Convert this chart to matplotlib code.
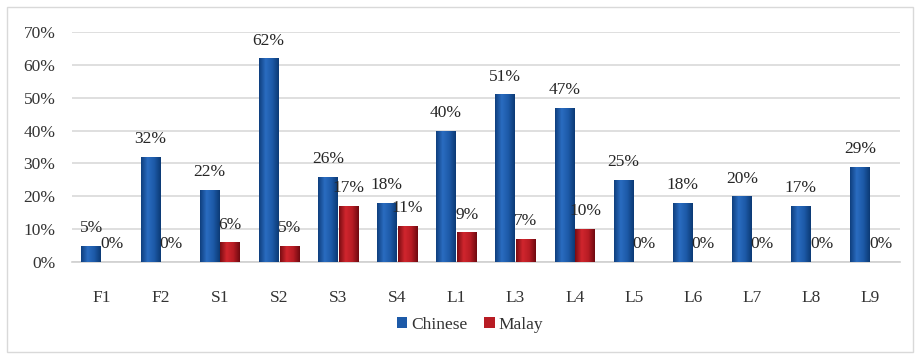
import numpy as np
import matplotlib
matplotlib.use("Agg")
import matplotlib.pyplot as plt
from matplotlib.patches import Rectangle
from matplotlib.colors import LinearSegmentedColormap

categories = ["F1", "F2", "S1", "S2", "S3", "S4", "L1", "L3", "L4", "L5", "L6", "L7", "L8", "L9"]
chinese = [5, 32, 22, 62, 26, 18, 40, 51, 47, 25, 18, 20, 17, 29]
malay = [0, 0, 6, 5, 17, 11, 9, 7, 10, 0, 0, 0, 0, 0]
series_names = ["Chinese", "Malay"]

plt.rcParams['font.family'] = ['Liberation Serif', 'DejaVu Serif']

fig = plt.figure(figsize=(9.18, 3.55), dpi=100)
fig.patches.append(Rectangle((7/918, 3/355), 906/918, 345/355, transform=fig.transFigure,
                             fill=False, edgecolor='#d9d9d9', linewidth=1.0))
ax = fig.add_axes([72/918, 93/355, 828/918, 230/355])

x = np.arange(len(categories))
w = 0.33
gap = 0.02
blue_cmap = LinearSegmentedColormap.from_list('b', ['#0f3f7e', '#2a6cc0', '#1d5aa8', '#0c3a75'])
red_cmap = LinearSegmentedColormap.from_list('r', ['#7a0c12', '#d0262e', '#b81c24', '#700a10'])
grad = np.linspace(0, 1, 64).reshape(1, -1)

bars_c = ax.bar(x - w/2 - gap/2, chinese, w, color='#1d5aa8', edgecolor='none', zorder=3, label=series_names[0])
bars_m = ax.bar(x + w/2 + gap/2, malay, w, color='#b81c24', edgecolor='none', zorder=3, label=series_names[1])

for bars, cmap in ((bars_c, blue_cmap), (bars_m, red_cmap)):
    for b in bars:
        h = b.get_height()
        if h <= 0:
            continue
        x0 = b.get_x(); bw = b.get_width()
        im = ax.imshow(grad, cmap=cmap, extent=(x0, x0 + bw, 0, h), aspect='auto', zorder=4)
        im.set_clip_path(b)

for bars, vals in ((bars_c, chinese), (bars_m, malay)):
    for b, v in zip(bars, vals):
        ax.annotate(f"{v}%", (b.get_x() + b.get_width()/2, v), xytext=(0, 7),
                    textcoords='offset points', ha='center', va='bottom',
                    fontsize=12.5, color='#262626', zorder=6)

ax.set_xlim(-0.5, len(categories) - 0.5)
ax.set_ylim(0, 70)
ax.set_yticks(np.arange(0, 71, 10))
ax.set_yticklabels([f"{t}%" for t in range(0, 71, 10)])
ax.set_xticks(x)
ax.set_xticklabels(categories)
ax.tick_params(axis='both', length=0, labelsize=12.5, colors='#333333')
ax.tick_params(axis='x', pad=20)
ax.tick_params(axis='y', pad=12)
ax.yaxis.grid(True, color='#d9d9d9', linewidth=1.2, zorder=0)
ax.set_axisbelow(True)
for s in ['top', 'right', 'left']:
    ax.spines[s].set_visible(False)
ax.spines['bottom'].set_color('#d0d0d0')
ax.spines['bottom'].set_linewidth(1.2)

leg = fig.legend(handles=[bars_c, bars_m], labels=series_names, loc='center',
                 bbox_to_anchor=(470/918, 1 - 325/355), ncol=2, frameon=False,
                 fontsize=12.5, handlelength=0.6, handleheight=0.6, handletextpad=0.2,
                 columnspacing=1.0, labelcolor='#333333')

fig.savefig("out.png", dpi=100)
